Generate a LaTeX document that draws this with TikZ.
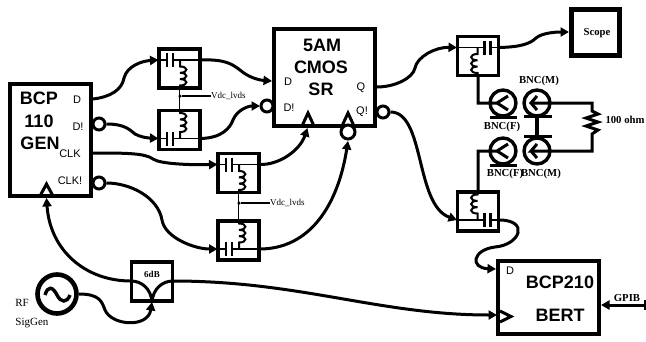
\documentclass[tikz,border=0pt]{standalone}
\usepackage{fontspec}
\setmainfont{Liberation Serif}
\newfontfamily\arl{Liberation Sans}
\usetikzlibrary{positioning, arrows.meta, calc}
\tikzset{
  blk/.style    = {draw, rectangle, line width=4.6pt, inner sep=0pt},
  biasbox/.style= {draw, rectangle, line width=3.4pt, inner sep=0pt, minimum width=41pt, minimum height=39pt},
  bub/.style    = {draw, circle, fill=white, line width=3pt, inner sep=0pt, minimum size=12pt},
  bnc/.style    = {draw, circle, line width=3.4pt, inner sep=0pt, minimum size=26pt},
  jn/.style     = {fill, circle, inner sep=0pt, minimum size=3.5pt},
  wire/.style   = {line width=3pt, -{Triangle[length=8.5pt,width=9pt]}},
  pl/.style     = {line width=3pt},
  fine/.style   = {line width=1.8pt},
  big/.style    = {font=\arl\bfseries\fontsize{18}{18}\selectfont, inner sep=0pt},
  pin/.style    = {font=\arl\fontsize{11}{11}\selectfont, inner sep=0pt},
  lbl/.style    = {font=\fontsize{11}{11}\selectfont, inner sep=0pt},
  lblb/.style   = {font=\bfseries\fontsize{10.7}{11}\selectfont, inner sep=0pt},
  tiny/.style   = {font=\fontsize{9}{9}\selectfont, inner sep=0pt},
}
% name, x, y, xflip, yflip
\newcommand{\biast}[5]{
  \node[biasbox] (#1) at (#2,#3) {};
  \begin{scope}[shift={(#2,#3)}, xscale=#4, yscale=#5]
    \coordinate (#1 a) at (-21,-8.5);
    \coordinate (#1 b) at (21,-8.5);
    \draw[fine] (-21,-8.5) -- (-12.5,-8.5) (-6.5,-8.5) -- (21,-8.5);
    \draw[line width=2.4pt] (-12.5,-15.5) -- (-12.5,-1.5) (-6.5,-15.5) -- (-6.5,-1.5);
    \draw[line width=2pt] (0.5,-8.5) -- (0.5,-2)
      .. controls (9,-2) and (9,4.3) .. (0.5,4.3)
      .. controls (9,4.3) and (9,10.6) .. (0.5,10.6)
      .. controls (9,10.6) and (9,17) .. (0.5,17) -- (0.5,19.5);
  \end{scope}
}
\begin{document}
\begin{tikzpicture}[x=1pt, y=-1pt]
  \useasboundingbox (0,0) rectangle (646,341);

  \node[blk, minimum width=81pt, minimum height=112pt] (gen) at (50.5,140) {};
  \node[blk, minimum width=101pt, minimum height=97pt] (sr) at (324.5,77.5) {};
  \node[blk, line width=5.5pt, minimum width=48pt, minimum height=46pt] (scope) at (595.5,32.5) {};
  \node[blk, minimum width=101pt, minimum height=73pt] (bert) at (548.5,297.5) {};
  \node[biasbox] (att) at (152,281.5) {};
  \node[draw, circle, line width=4.6pt, inner sep=0pt, minimum size=39pt] (sig) at (57,294) {};

  \biast{dp}{179.5}{68.5}{1}{1}
  \biast{dn}{179.5}{130}{1}{-1}
  \biast{cp}{238.5}{173}{1}{1}
  \biast{cn}{238.5}{240.5}{1}{-1}
  \biast{qp}{478}{56}{-1}{1}
  \biast{qn}{478}{211.5}{-1}{-1}

  % text
  \node[big] (t1) at (39,98) {BCP};
  \node[big] (t2) at (39,121) {110};
  \node[big] (t3) at (40,143) {GEN};
  \node[pin] (t4) at (77,100) {D};
  \node[pin] (t5) at (78,127) {D!};
  \node[pin] (t6) at (70,154) {CLK};
  \node[pin] (t7) at (70,181) {CLK!};
  \node[big] (t8) at (322,45) {5AM};
  \node[big] (t9) at (321,67) {CMOS};
  \node[big] (t10) at (321,89) {SR};
  \node[pin] (t11) at (288,82) {D};
  \node[pin] (t12) at (289,108) {D!};
  \node[pin] (t13) at (361,88) {Q};
  \node[pin] (t14) at (362,112) {Q!};
  \node[lblb] (t15) at (597,33) {Scope};
  \node[lblb] (t16) at (539,81) {BNC(M)};
  \node[lblb] (t17) at (502,127) {BNC(F)};
  \node[lblb] (t18) at (505,174) {BNC(F)};
  \node[lblb] (t19) at (541,174) {BNC(M)};
  \node[lblb] (t20) at (625,120) {100 ohm};
  \node[font=\bfseries\fontsize{9}{9}\selectfont, inner sep=0pt] (t21) at (152,274) {6dB};
  \node[lbl] (t22) at (22,303) {RF};
  \node[lbl] (t23) at (32,323) {SigGen};
  \node[pin] (t24) at (510,271) {D};
  \node[big] (t25) at (560,282) {BCP210};
  \node[big] (t26) at (560,315) {BERT};
  \node[lblb] (t27) at (627,298) {GPIB};

  % bias lines
  \node[jn] (va) at (180,96) {};
  \node[jn] (vb) at (239,203) {};
  \node[tiny, anchor=west] (vdca) at (211,96) {Vdc\_lvds};
  \node[tiny, anchor=west] (vdcb) at (270,203) {Vdc\_lvds};
  \draw[line width=1.8pt] (dp.south) -- (dn.north) (cp.south) -- (cn.north);
  \draw[line width=1.2pt] (va) -- (vdca) (vb) -- (vdcb);

  % pins and clock marks
  \node[bub] (gendn) at (99,124) {};
  \node[bub] (genckn) at (99,183) {};
  \node[bub] (srdn) at (267,106) {};
  \node[bub] (srqn) at (383,112) {};
  \draw[pl] (40,196) -- (46.5,184) -- (53,196);
  \draw[pl] (302,126) -- (308,113) -- (314,126);
  \draw[pl] (342,126) -- (348,113) -- (354,126);
  \node[bub, minimum size=14pt] (srckn) at (348,132) {};
  \draw[pl] (500,311) -- (511,316.5) -- (500,322);

  \coordinate (gend) at (93,99);
  \coordinate (genck) at (93,153);
  \coordinate (genin) at (46.5,198);
  \coordinate (srd) at (272,81);
  \coordinate (srdnp) at (260,106);
  \coordinate (srck) at (307.5,128);
  \coordinate (srcknp) at (348,141);
  \coordinate (srq) at (377,87);
  \coordinate (scpin) at (569,32);
  \coordinate (bertd) at (496,269);
  \coordinate (bertck) at (497,315);
  \coordinate (bertg) at (601,305);
  \coordinate (gpibend) at (645,305);
  \coordinate (attl) at (131,281);
  \coordinate (attr) at (173,281);
  \coordinate (attb) at (152,302);

  % coupler
  \draw[pl] (attl) .. controls (142,281) and (151,289) .. (attb);
  \draw[pl] (attr) .. controls (162,281) and (153,289) .. (attb);

  % signal path
  \draw[wire] (gend) .. controls (110,97) and (122,90) .. (124,78) .. controls (127,66) and (142,61) .. (dp a);
  \draw[wire] (dp b) .. controls (225,59) and (232,64) .. (240,70) .. controls (248,77) and (258,80) .. (srd);
  \draw[wire] (gendn) .. controls (125,124) and (130,130) .. (135,134) .. controls (140,137) and (148,138) .. (dn a);
  \draw[wire] (dn b) .. controls (222,138) and (230,128) .. (233,120) .. controls (237,110) and (248,106) .. (srdnp);
  \draw[wire] (genck) .. controls (125,153) and (145,153) .. (153,159) .. controls (160,164) and (190,165) .. (cp a);
  \draw[wire] (cp b) .. controls (280,165) and (300,150) .. (srck);
  \draw[wire] (genckn) .. controls (130,183) and (158,197) .. (162,220) .. controls (165,238) and (195,249) .. (cn a);
  \draw[wire] (cn b) .. controls (310,249) and (338,205) .. (srcknp);
  \draw[wire] (srq) .. controls (395,87) and (413,78) .. (415,68) .. controls (417,57) and (435,47) .. (qp b);
  \draw[wire] (srqn) .. controls (425,112) and (415,205) .. (qn b);
  \draw[wire] (qp a) .. controls (520,47) and (530,44) .. (536,38) .. controls (542,33) and (555,32) .. (scpin);
  \draw[wire] (qn a) .. controls (530,220) and (520,245) .. (495,247) .. controls (472,250) and (470,268) .. (bertd);
  \draw[wire] (attl) .. controls (85,281) and (50,250) .. (genin);
  \draw[wire] (attr) .. controls (300,281) and (380,315) .. (bertck);
  \draw[wire] (sig) ++(22,0) .. controls (100,294) and (102,302) .. (105,310) .. controls (112,326) and (148,328) .. (attb);
  \draw[wire] (gpibend) -- (bertg);
  \draw[line width=1.8pt] (gpibend) ++(0,-5) -- ++(0,10);

  % source
  \draw[line width=3.4pt] (45,295) .. controls (48,285) and (53,287) .. (57,295) .. controls (61,303) and (67,303) .. (70,295);

  % BNC connectors
  \node[bnc] (fa) at (503,103) {};
  \node[bnc] (ma) at (537,103) {};
  \node[bnc] (fb) at (503,151) {};
  \node[bnc] (mb) at (537,151) {};
  \coordinate (fav) at (497,103);
  \coordinate (fbv) at (497,151);
  \coordinate (mav) at (531,103);
  \coordinate (mbv) at (531,151);
  \coordinate (ra) at (592,103);
  \coordinate (rb) at (592,151);
  \draw[pl] (qp.south) |- (fav) -- (508,96) (fav) -- (508,110);
  \draw[pl] (qn.north) |- (fbv) -- (508,144) (fbv) -- (508,158);
  \draw[pl] (537,96) -- (mav) -- (537,110) (mav) -- (ra) -- (592,111) -- (598,114) -- (586,118) -- (598,122) -- (586,126) -- (598,130) -- (592,134) -- (rb) -- (mbv) -- (537,144) (mbv) -- (537,158);
  \draw[pl] (490,117) -- (517,117) (524,116) -- (552,116) (524,136) -- (552,136) (490,165) -- (517,165);
  \draw[line width=3.4pt] (ma.south) -- (mb.north);
\end{tikzpicture}
\end{document}
